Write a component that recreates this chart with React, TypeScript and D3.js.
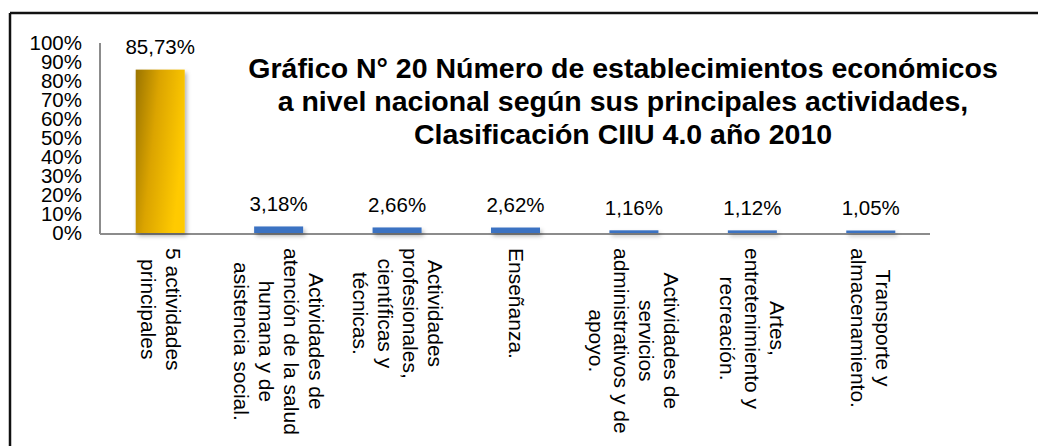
import * as d3 from "d3";

// chart data
const categories = [
  "5 actividades principales",
  "Actividades de atención de la salud humana y de asistencia social.",
  "Actividades profesionales, científicas y técnicas.",
  "Enseñanza.",
  "Actividades de servicios administrativos y de apoyo.",
  "Artes, entretenimiento y recreación.",
  "Transporte y almacenamiento.",
];
// how the category labels wrap in the original
const categoryLines = [
  ["5 actividades", "principales"],
  ["Actividades de", "atención de la salud", "humana y de", "asistencia social."],
  ["Actividades", "profesionales,", "científicas y", "técnicas."],
  ["Enseñanza."],
  ["Actividades de", "servicios", "administrativos y de", "apoyo."],
  ["Artes,", "entretenimiento y", "recreación."],
  ["Transporte y", "almacenamiento."],
];
const values = [0.8573, 0.0318, 0.0266, 0.0262, 0.0116, 0.0112, 0.0105];
const yTicks = [0, 0.1, 0.2, 0.3, 0.4, 0.5, 0.6, 0.7, 0.8, 0.9, 1];
const titleLines = [
  "Gráfico N° 20 Número de establecimientos económicos",
  "a nivel nacional según sus principales actividades,",
  "Clasificación CIIU 4.0 año 2010",
];

const width = 1038;
const height = 446;
const marginLeft = 100;
const marginRight = 108;
const marginTop = 43;
const axisY = 233;
const fontFamily = "'Liberation Sans', Arial, sans-serif";
const fontSize = 20.5;
const labelSize = 21;
const lineHeight = 25;

let ctx: CanvasRenderingContext2D | null = null;
function textWidth(s: string) {
  if (!ctx) ctx = document.createElement("canvas").getContext("2d");
  if (!ctx) return s.length * labelSize * 0.5;
  ctx.font = `${labelSize}px 'Liberation Sans', Arial, sans-serif`;
  return ctx.measureText(s).width;
}

const fmt = (v: number) => (v * 100).toFixed(2).replace(".", ",") + "%";

export default function App() {
  const x = d3.scaleBand(categories, [marginLeft + 1, width - marginRight])
    .paddingInner(0.586)
    .paddingOuter(0.293);
  const y = d3.scaleLinear([0, 1], [axisY, marginTop]);

  return (
    <svg width={width} height={height} style={{ position: "absolute", left: 0, top: 0, background: "#fff" }}
      fontFamily={fontFamily}>
      <defs>
        <linearGradient id="gold" x1="0" y1="0" x2="1" y2="0.35">
          <stop offset="0" stopColor="#9a7404" />
          <stop offset="0.45" stopColor="#dba400" />
          <stop offset="1" stopColor="#ffca00" />
        </linearGradient>
        <filter id="shadow" x="-20%" y="-20%" width="140%" height="140%">
          <feDropShadow dx="2" dy="3" stdDeviation="2.2" floodColor="#000" floodOpacity="0.3" />
        </filter>
      </defs>

      {/* frame */}
      <line x1={10} x2={width} y1={13} y2={13} stroke="#111" strokeWidth={2.5} />
      <line x1={10} x2={10} y1={13} y2={height} stroke="#111" strokeWidth={2.5} />

      {/* title */}
      <text textAnchor="middle" fontWeight="bold" fontSize={28.5} fill="#000">
        {titleLines.map((t, i) => (
          <tspan key={i} x={623} y={78 + i * 33}>{t}</tspan>
        ))}
      </text>

      {/* y ticks */}
      <g fontSize={fontSize} textAnchor="end" fill="#000">
        {yTicks.map((t) => (
          <text key={t} x={82} y={y(t)} dy="0.36em">{d3.format(".0%")(t)}</text>
        ))}
      </g>

      {/* axes, under the bars */}
      <line x1={marginLeft} x2={marginLeft} y1={marginTop} y2={axisY + 1} stroke="#8c8c8c" strokeWidth={2} />
      <line x1={marginLeft} x2={width - marginRight} y1={axisY + 1} y2={axisY + 1} stroke="#8c8c8c" strokeWidth={2} />

      {/* bars */}
      <g filter="url(#shadow)">
        {values.map((v, i) => (
          <rect key={i} x={x(categories[i])} y={y(v) - 0.5} width={x.bandwidth()} height={axisY - y(v) + 0.5}
            fill={i === 0 ? "url(#gold)" : "#3b72c2"} />
        ))}
      </g>

      {/* value labels */}
      <g fontSize={fontSize} textAnchor="middle" fill="#000">
        {values.map((v, i) => (
          <text key={i} x={x(categories[i])! + x.bandwidth() / 2} y={y(v) - 16}>{fmt(v)}</text>
        ))}
      </g>

      {/* rotated category labels */}
      <g fontSize={labelSize} fill="#000">
        {categoryLines.map((lines, i) => {
          const cx = x(categories[i])! + x.bandwidth() / 2;
          const maxW = d3.max(lines, (l) => textWidth(l)) ?? 0;
          const n = lines.length;
          return (
            <text key={i} transform={`translate(${cx},248) rotate(90)`} textAnchor="middle">
              {lines.map((l, j) => (
                <tspan key={j} x={maxW / 2} y={-((n - 1) / 2 - j) * lineHeight + 7}>{l}</tspan>
              ))}
            </text>
          );
        })}
      </g>
    </svg>
  );
}
